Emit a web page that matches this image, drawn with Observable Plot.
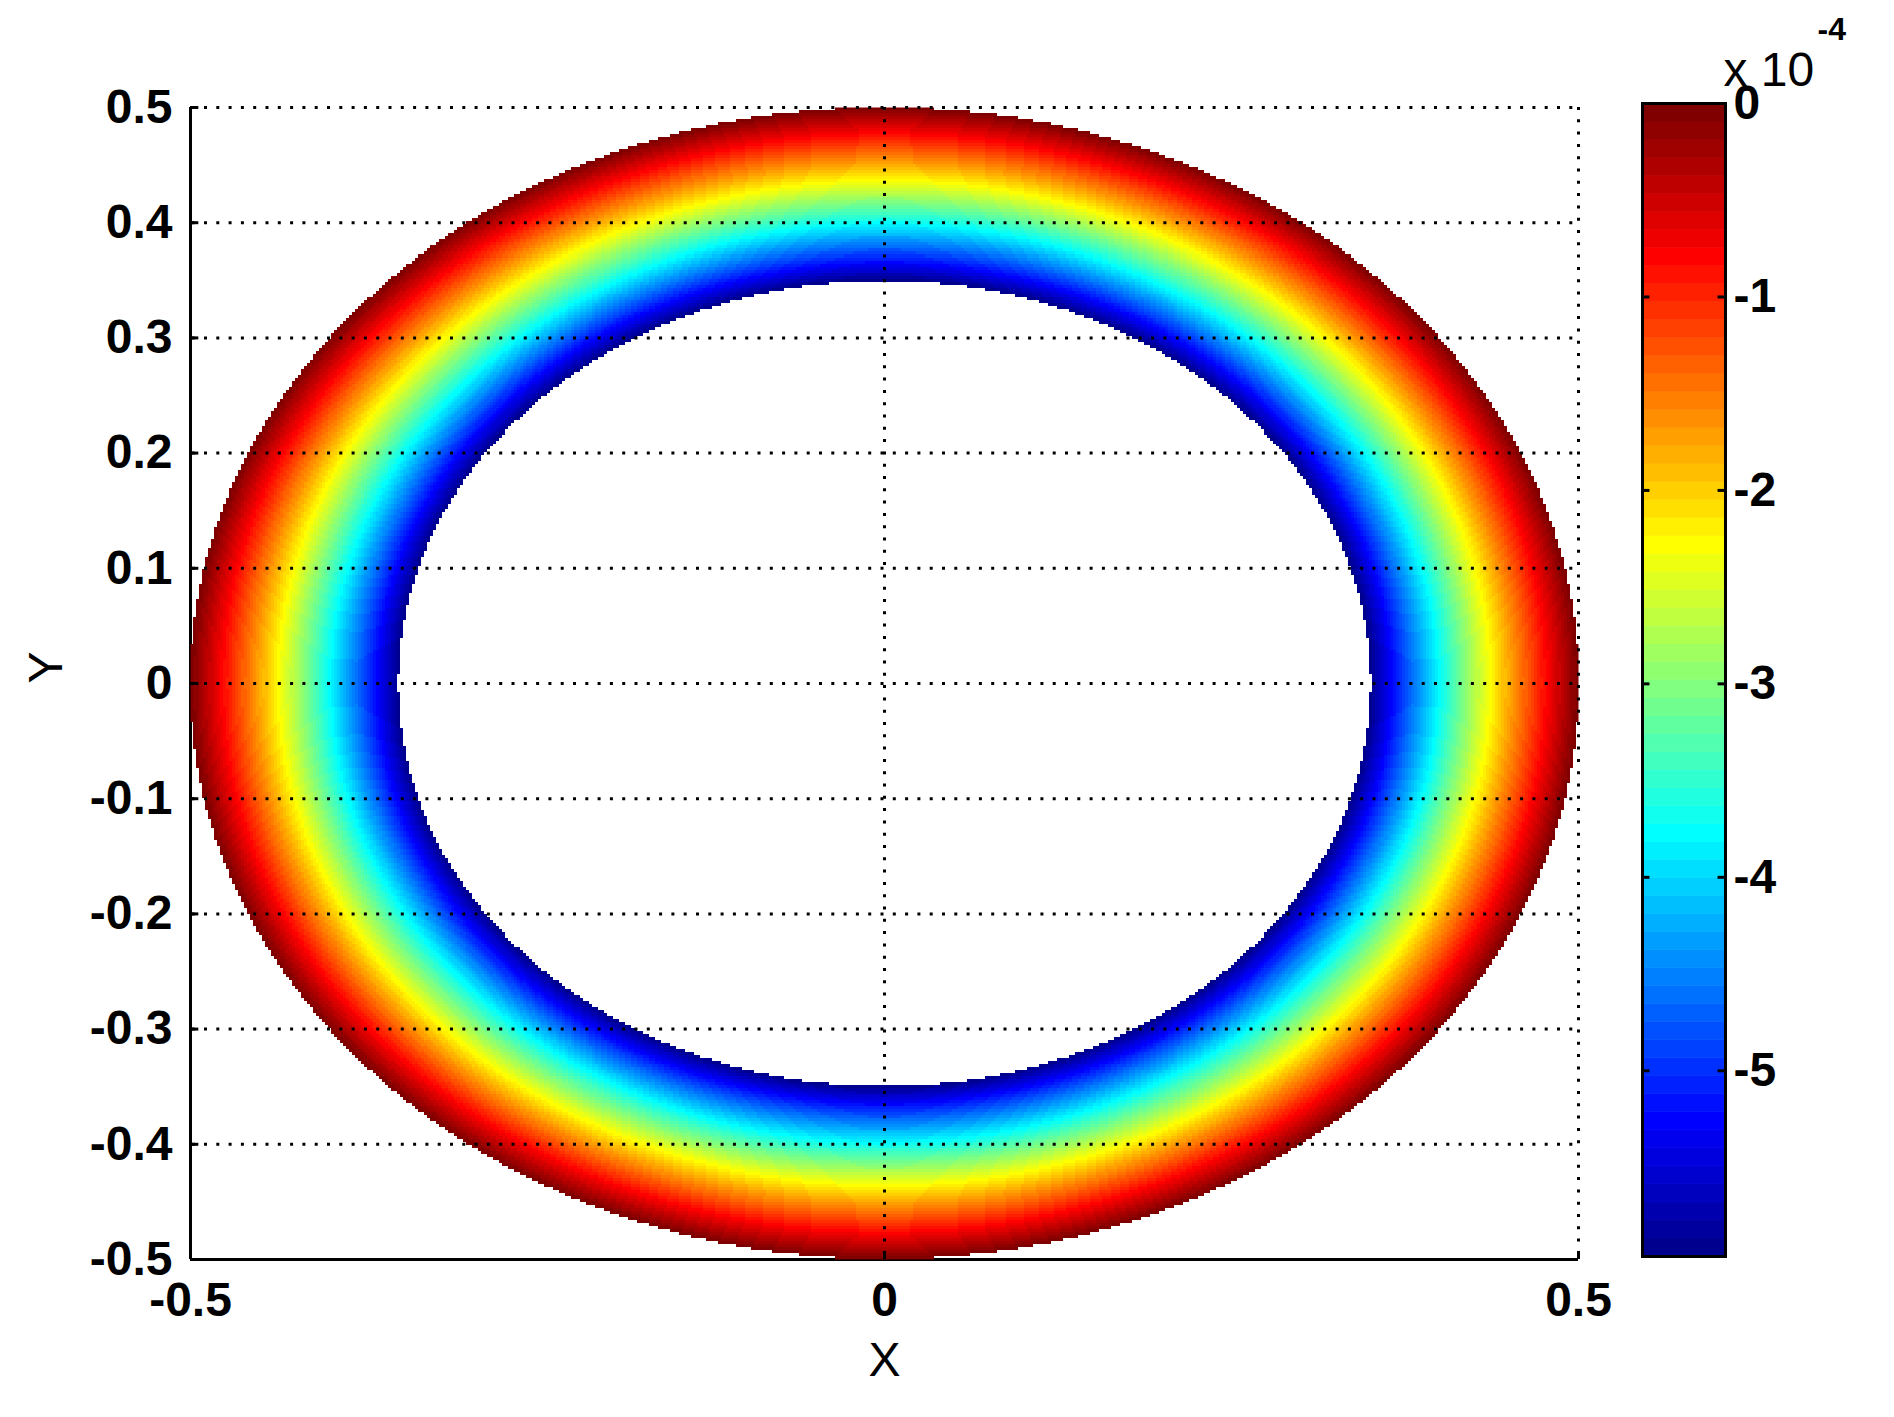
<!DOCTYPE html>
<html><head><meta charset="utf-8">
<script src="https://cdn.jsdelivr.net/npm/d3@7"></script>
<script src="https://cdn.jsdelivr.net/npm/@observablehq/plot@0.6"></script>
<style>
html,body{margin:0;padding:0;background:#fff;}
#wrap{position:relative;width:1894px;height:1417px;background:#fff;}
#wrap svg{position:absolute;left:0;top:0;}
</style></head><body><div id="wrap"></div>
<script>
// ---- data ----
const xTicks = [-0.5, 0, 0.5];
const yTicks = [-0.5, -0.4, -0.3, -0.2, -0.1, 0, 0.1, 0.2, 0.3, 0.4, 0.5];
const cbTicks = [0, -1, -2, -3, -4, -5];
// radial profile of the field (value in units of 1e-4) across the annulus
const profileRadius = [0.35, 0.36, 0.37, 0.38, 0.39, 0.40, 0.41, 0.42, 0.43, 0.44, 0.45, 0.46, 0.47, 0.48, 0.49, 0.50];
const profileValue  = [-5.96, -5.50, -5.04, -4.59, -4.16, -3.73, -3.32, -2.92, -2.52, -2.14, -1.76, -1.40, -1.04, -0.68, -0.34, 0];
const valueRange = [-5.96, 0];
const xLabel = "X", yLabel = "Y";
const cbMultiplier = "x 10", cbExponent = "-4";

// ---- MATLAB jet(64) colormap ----
function jet(m) {
  const n = Math.ceil(m / 4), u = [];
  for (let i = 1; i <= n; i++) u.push(i / n);
  for (let i = 1; i < n; i++) u.push(1);
  for (let i = n; i >= 1; i--) u.push(i / n);
  const J = Array.from({length: m}, () => [0, 0, 0]);
  const off = Math.ceil(n / 2) - (m % 4 === 1 ? 1 : 0);
  for (let k = 0; k < u.length; k++) {
    const g = off + k + 1, r = g + n, b = g - n;
    if (g >= 1 && g <= m) J[g - 1][1] = u[k];
    if (r >= 1 && r <= m) J[r - 1][0] = u[k];
    if (b >= 1 && b <= m) J[b - 1][2] = u[k];
  }
  return J.map(([r, g, b]) => `rgb(${Math.round(r * 255)},${Math.round(g * 255)},${Math.round(b * 255)})`);
}
const nLevels = 64;
const jet64 = jet(nLevels);
const colorScale = {
  type: "linear",
  domain: valueRange,
  interpolate: t => jet64[Math.max(0, Math.min(nLevels - 1, Math.floor(t * nLevels)))]
};

function fieldAt(x, y) {
  const r = Math.hypot(x, y);
  const R = profileRadius;
  if (r < R[0] || r > R[R.length - 1]) return NaN;
  const i = Math.min(R.length - 2, Math.max(0, d3.bisectRight(R, r) - 1));
  const t = (r - R[i]) / (R[i + 1] - R[i]);
  return profileValue[i] + t * (profileValue[i + 1] - profileValue[i]);
}

const fmt = d => (d === 0 ? "0" : String(d));
const W = 1894, H = 1417;
const font = "'Liberation Sans', Arial, Helvetica, sans-serif";
const xDom = [-0.5, 0.5], yDom = [-0.5, 0.5];

const main = Plot.plot({
  width: W, height: H,
  marginLeft: 190, marginRight: 316, marginTop: 107, marginBottom: 158,
  style: {fontFamily: font, background: "transparent", color: "black"},
  x: {domain: xDom},
  y: {domain: yDom},
  color: colorScale,
  marks: [
    Plot.ruleX([xDom[0]], {stroke: "black", strokeWidth: 3}),
    Plot.ruleY([yDom[0]], {stroke: "black", strokeWidth: 3}),
    Plot.raster({x1: xDom[0], x2: xDom[1], y1: yDom[0], y2: yDom[1], fill: fieldAt, pixelSize: 3, imageRendering: "pixelated"}),
    Plot.ruleY(yTicks.filter(d => d !== yDom[0]), {stroke: "black", strokeWidth: 3, strokeDasharray: "3,9.3", strokeDashoffset: -14}),
    Plot.ruleX(xTicks.filter(d => d !== xDom[0]), {stroke: "black", strokeWidth: 3, strokeDasharray: "3,9.3"}),
    Plot.ruleY(yTicks, {x1: xDom[0], x2: xDom[0] + 0.006, stroke: "black", strokeWidth: 3}),
    Plot.ruleX(xTicks, {y1: yDom[0], y2: yDom[0] + 0.007, stroke: "black", strokeWidth: 3}),
    Plot.axisY(yTicks, {anchor: "left", tickSize: 0, tickPadding: 18, fontSize: 48, fontWeight: "bold", tickFormat: fmt, label: null}),
    Plot.axisX(xTicks, {anchor: "bottom", tickSize: 0, tickPadding: 22, fontSize: 48, fontWeight: "bold", tickFormat: fmt, label: null}),
    Plot.text([xLabel], {text: d => d, frameAnchor: "bottom", dy: 101, fontSize: 48, lineAnchor: "middle"}),
    Plot.text([yLabel], {text: d => d, frameAnchor: "left", dx: -144, rotate: -90, fontSize: 48, lineAnchor: "middle"})
  ]
});

const step = (valueRange[1] - valueRange[0]) / nLevels;
const bands = d3.range(nLevels).map(i => ({lo: valueRange[0] + i * step, hi: valueRange[0] + (i + 1) * step, mid: valueRange[0] + (i + 0.5) * step}));

const cbar = Plot.plot({
  width: W, height: H,
  marginLeft: 1642, marginRight: 169, marginTop: 103, marginBottom: 161,
  style: {fontFamily: font, background: "transparent", color: "black"},
  x: {domain: [0, 1], axis: null},
  y: {domain: valueRange},
  color: colorScale,
  marks: [
    Plot.rect(bands, {x1: 0, x2: 1, y1: "lo", y2: "hi", fill: "mid", stroke: "mid", strokeWidth: 0.6}),
    Plot.ruleY(cbTicks, {x1: 0, x2: 0.09, stroke: "black", strokeWidth: 3}),
    Plot.ruleY(cbTicks, {x1: 0.91, x2: 1, stroke: "black", strokeWidth: 3}),
    Plot.frame({stroke: "black", strokeWidth: 3}),
    Plot.axisY(cbTicks, {anchor: "right", tickSize: 0, tickPadding: 8, fontSize: 48, fontWeight: "bold", tickFormat: fmt, label: null}),
    Plot.text([cbMultiplier], {text: d => d, frameAnchor: "top-left", dx: 81, dy: -33, fontSize: 48, textAnchor: "start", lineAnchor: "middle"}),
    Plot.text([cbExponent], {text: d => d, frameAnchor: "top-left", dx: 175, dy: -74, fontSize: 32, fontWeight: "bold", textAnchor: "start", lineAnchor: "middle"})
  ]
});

const wrap = document.getElementById("wrap");
wrap.appendChild(main);
wrap.appendChild(cbar);
</script>
</body></html>
